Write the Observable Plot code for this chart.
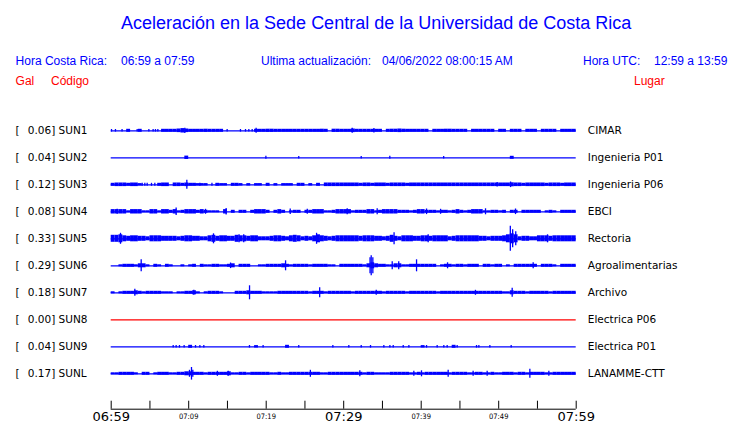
<!DOCTYPE html>
<html><head><meta charset="utf-8">
<script src="https://cdn.jsdelivr.net/npm/d3@7"></script>
<script src="https://cdn.jsdelivr.net/npm/@observablehq/plot@0.6"></script>
<style>
body{margin:0;background:#fff;}
#wrap{position:relative;width:740px;height:423px;overflow:hidden;font-family:"Liberation Sans",Arial,sans-serif;}
.h{position:absolute;white-space:pre;line-height:1;}
.b{color:#0000ff;font-size:12px;line-height:12px;}
.r{color:#ff0000;font-size:12px;line-height:12px;}
#chart{position:absolute;left:0;top:0;}
</style></head><body>
<div id="wrap">
  <div id="chart"></div>
  <div class="h" style="left:121px;top:14px;font-size:18px;line-height:18px;color:#0000ff;">Aceleración en la Sede Central de la Universidad de Costa Rica</div>
  <div class="h b" style="left:15.6px;top:55px;">Hora Costa Rica:</div>
  <div class="h b" style="left:121px;top:55px;">06:59 a 07:59</div>
  <div class="h b" style="left:261px;top:55px;">Ultima actualización:</div>
  <div class="h b" style="left:382px;top:55px;">04/06/2022 08:00:15 AM</div>
  <div class="h b" style="left:583px;top:55px;">Hora UTC:</div>
  <div class="h b" style="left:654px;top:55px;">12:59 a 13:59</div>
  <div class="h r" style="left:15.6px;top:75px;">Gal</div>
  <div class="h r" style="left:51px;top:75px;">Código</div>
  <div class="h r" style="left:634px;top:75px;">Lugar</div>
</div>
<script>
// ---- Data ----
const codes  = ["SUN1","SUN2","SUN3","SUN4","SUN5","SUN6","SUN7","SUN8","SUN9","SUNL"];
const galMax = [0.06, 0.04, 0.12, 0.08, 0.33, 0.29, 0.18, 0.00, 0.04, 0.17];
const places = ["CIMAR","Ingenieria P01","Ingenieria P06","EBCI","Rectoria","Agroalimentarias","Archivo","Electrica P06","Electrica P01","LANAMME-CTT"];

// minutes after 06:59 of the ticks and their labels
const tickMinutes = [0,5,10,15,20,25,30,35,40,45,50,55,60];
const labelMinutes = [0,10,20,30,40,50,60];
const tickLabels = ["06:59","07:09","07:19","07:29","07:39","07:49","07:59"];
const majorLabels = ["06:59","07:29","07:59"];

// envelope (half amplitude) per half-minute bin, 120 bins each
const envSUN1 = [0,0,0,0,1.5,0,0,1.5,0,0, 0,0,0,1.5,1.5,1.5,1.5,1.8,2.2,1.8, 1.5,1.5,1.5,1.5,1.6,1.5,1.5,1.5,1.5,0, 0,0,0,0,0,0,0,1.5,1.5,1.5, 1.6,1.6,1.5,1.5,1.5,1.5,1.5,1.5,1.5,1.5, 1.5,1.5,1.5,1.5,1.6,1.5,0,1.6,1.6,1.5,
  1.5,1.5,1.8,1.5,1.5,1.5,1.5,1.5,1.5,1.5, 0,1.5,1.6,1.6,1.8,1.6,1.5,1.5,1.5,1.5, 1.5,1.5,0,1.5,1.5,1.5,1.6,1.6,1.5,1.5, 1.5,1.5,0,1.5,1.5,1.5,1.5,1.5,1.5,0, 1.5,1.5,0,1.5,1.5,1.5,0,1.5,1.5,1.5, 0,1.5,1.5,1.5,1.5,0,1.5,1.5,1.5,1.5];
const envSUN2 = [0,0,0,0,0,0,0,0,0,0, 0,0,0,0,0,0,0,0,0,1.7, 0,0,0,0,0,0,0,0,0,0, 0,0,0,0,0,0,0,0,0,0, 0,0,0,0,0,0,0,0,0,0, 0,0,0,0,0,0,0,0,0,0,
  0,0,0,0,0,0,0,0,0,0, 0,0,0,0,0,0,0,0,0,0, 0,0,0,0,0,0,0,0,0,0, 0,0,0,0,0,0,0,0,0,0, 0,0,0,1.5,0,0,0,0,0,0, 0,0,0,0,0,0,0,0,0,0];
const envSUN3 = [1.5,1.8,1.8,1.8,1.5,1.8,1.8,1.2,0,0, 0,0,1.5,1.8,1.8,0,1.8,1.8,1.5,1.8, 1.5,1.5,1.2,1.2,1.2,0,0,1.5,1.2,1.2, 0,1.5,1.5,1.2,0,1.2,0,1.2,1.2,0, 1.5,0,1.2,0,1.2,1.2,1.2,0,1.5,1.5, 0,1.2,0,1.5,0,1.8,1.8,1.8,1.8,1.8,
  1.8,1.8,1.8,1.8,1.5,1.8,1.8,1.5,1.8,1.8, 1.8,1.5,1.8,1.8,1.8,1.8,1.5,1.8,1.8,1.8, 1.8,1.8,1.8,1.8,1.8,1.8,1.8,1.8,1.8,1.8, 1.8,1.8,1.8,1.8,1.8,1.8,1.8,1.8,1.8,1.8, 1.8,1.8,1.8,2,1.8,1.8,1.5,1.8,1.8,1.8, 1.8,1.8,1.5,1.8,1.8,1.8,1.5,1.8,1.8,1.8];
const envSUN4 = [2.2,2.2,2.2,2.2,1,2.2,2.2,2.2,1,1, 2.2,2.2,1,2.2,2.2,1.5,2.2,1,1.5,2.2, 2.2,2.2,1.5,2.2,1.5,1,1,1,0,2.2, 0,1.5,0,1.5,1.5,0,1.5,2.2,2.2,2.2, 1.5,0,1.5,2.2,1.5,0,1,1.5,1.5,0, 1.5,1.5,2.2,2.2,2.2,1,1,1.5,2.2,2.2,
  2.2,2.2,1,1.5,1.5,1.5,2.2,2.2,1,1.5, 2.2,2.2,2.2,2.2,1.5,1.5,1.5,1,1.5,2.2, 2.2,1.5,1.5,1.5,1,1.5,1.5,1,1.5,2.2, 1.5,1,1.5,2.2,2.2,2.2,1,1,1.5,1.5, 1,1.5,0,1.5,1.5,0,1.5,1.5,1.5,1.5, 1.5,0,1,1.5,1,0,1.5,1.5,1.5,1.5];
const envSUN5 = [3.5,3.5,4,3,2.5,3,3,2.5,2.5,2, 3,3,3,2.5,2.5,2.5,2.5,2,2.5,3, 3,2.5,2.5,2,2,3,3.5,2.5,3,3, 2.5,2.5,3.5,3,3,2.5,3,3,2,2, 2,2.5,3,3,2.5,2,3,3.5,3,2, 2.5,2,3,4,3,2.5,2,2.5,3,3,
  3,3,3,3,2.5,3,3,3,2.5,2.5, 2,2.5,3.5,2.5,2,3,3,3,2.5,2.5, 3,3,2.5,3,3,3,3,2,2.5,3, 3,3,3,3,3,2.5,2.5,2,2.5,2.5, 2.5,3,4,5,4,2,2.5,2.5,2,2, 3,3,3,2.5,3,3,3,3,3,3];
const envSUN6 = [0,0,1,1.5,1.5,1.5,1,2,2,1, 0,1.5,1,0,1.5,1,0,0,1,0, 1,1.5,0,1.5,1,1,1.5,1.5,1,1, 1.5,2,0,1.5,1.5,1.5,0,0,1,1, 1.5,1.5,1.5,1.5,2,1.5,1,1.5,1.5,1.5, 1.5,1,1.5,1.5,1.5,1.5,1,1,0,1.5,
  1.5,1.5,1.5,1.5,1.5,1,2,3,2,1.5, 1.5,1,1,2,2,1,1,1.5,1.5,1.5, 1.5,1.5,1.5,1.5,0,1,1.5,1.5,1,1.5, 1.5,1,1.5,1.5,1.5,0,1.5,1.5,1,1.5, 1.5,0,1,0,1.5,1.5,1.5,1.5,1.5,1.5, 0,1.5,1.5,1.5,1,0,1.5,1.5,1.5,1.5];
const envSUN7 = [1,0,1,1.5,1.5,1.5,2,1.5,1,1.5, 1.5,1.5,1.5,1,1,1,0,1,1,1.5, 1.5,2,1,0,1,1.5,1.5,1.5,1,0, 0,0,1.5,1.5,1.5,2,1.5,1.5,1.5,1, 1,1,1,1.5,1.5,1.5,1.5,1.5,1.5,1.5, 1.5,1,1.5,1.5,1.5,1,1.5,1.5,1.5,1.5,
  1.5,1.5,1,1.5,1.5,1.5,1.5,1.5,1.5,1.5, 1,1.5,1.5,1.5,1.5,1.5,1,1.5,1.5,1.5, 1.5,1.5,1.5,1.5,1,1.5,1.5,1.5,1.5,1.5, 1.5,1.5,1.5,1.5,1.5,1.5,1.5,1.5,1.5,1.5, 1.5,1,1,2,1.5,1.5,1.5,1,1.5,1.5, 1.5,1.5,1.5,1,1.5,1.5,1.5,1.5,1.5,1.5];
const envSUN8 = [0,0,0,0,0,0,0,0,0,0, 0,0,0,0,0,0,0,0,0,0, 0,0,0,0,0,0,0,0,0,0, 0,0,0,0,0,0,0,0,0,0, 0,0,0,0,0,0,0,0,0,0, 0,0,0,0,0,0,0,0,0,0,
  0,0,0,0,0,0,0,0,0,0, 0,0,0,0,0,0,0,0,0,0, 0,0,0,0,0,0,0,0,0,0, 0,0,0,0,0,0,0,0,0,0, 0,0,0,0,0,0,0,0,0,0, 0,0,0,0,0,0,0,0,0,0];
const envSUN9 = [0,0,0,0,0,0,0,0,0,0, 0,0,0,0,0,0,0,0,0,0, 1.5,0,0,0,0,0,0,0,0,0, 0,0,0,0,0,0,0,1.2,0,0, 0,0,0,0,0,1.5,0,0,0,0, 0,0,0,0,0,0,0,0,0,0,
  0,0,0,0,0,0,0,0,0,0, 0,0,0,0,0,0,0,0,0,0, 1.2,0,0,0,0,0,0,0,1.5,0, 0,0,0,0,0,0,0,0,0,0, 0,0,0,0,0,0,0,0,0,0, 0,0,0,0,0,0,0,0,0,0];
const envSUNL = [1,1,1.5,1.5,1.5,1.5,1,0,1.5,1.5, 0,1,1.5,1.5,1.5,1,1,1.5,1.5,2, 2,1.5,1.5,1.5,1,1.5,1.5,1.5,1.5,1.5, 2,1,1,1.5,1.5,1,1.5,1.5,1.5,1.5, 1.5,1,1,1.5,1,1,1.5,1.5,1.5,1.5, 1.5,1.5,1.5,1.5,1,1,1.5,1.5,1.5,1.5,
  1.5,1.5,1.5,1.5,1.5,1,1.5,1.5,1,1, 1,1,1.5,1.5,1.5,1.5,1.5,1,1,1.5, 1,1.5,1.5,1.5,1.5,1.5,1.5,1,1.5,1.5, 1.5,1.5,1,1,1.5,1.5,1,1,1.5,1, 1,1.5,1.5,1.5,1,1.5,1.5,1,1.5,1.5, 1.5,1.5,1,1,1.5,1.5,1.5,1.5,1.5,1.5];

// isolated peaks: [minute after 06:59, half amplitude]
const pkSUN1 = [[0.04,1.3],[0.55,1.3],[1.4,1.3],[3.35,1.3],[4.86,1.3],[5.41,1.3],[5.71,1.3],[6.02,1.3],[9.5,2.6],[14.96,1.3],[16.68,1.3],[17.33,1.3],[17.76,1.3],[18.19,1.3],[18.7,2.5],[31.1,2.5],[33.9,2.2]];
const pkSUN2 = [[19.96,1.5],[24.2,1.3],[32.26,1.3],[35.95,1.5],[42.9,1.3]];
const pkSUN3 = [[4.0,1.5],[4.34,1.5],[4.64,1.5],[5.2,1.5],[5.63,1.5],[9.76,4.5],[11.44,1.5],[13.0,1.5],[49.8,2.2],[51.53,2.8]];
const pkSUN4 = [[0.77,2.5],[8.38,3.7],[12.17,2.5],[14.83,3.3],[23.1,2.8],[25.3,2.5],[30.45,3],[34.32,3],[40.69,2.8],[42.5,2.5],[48.3,3],[52.17,2.8]];
const pkSUN5 = [[1.2,5.5],[13.2,5],[16.5,4],[17.1,4],[26.5,5.5],[36.5,6],[40.9,4],[51.5,12.5],[51.8,9],[52.2,7],[56.3,4]];
const pkSUN6 = [[3.87,6],[15.4,2.8],[22.5,5],[33.4,8],[33.55,10],[33.76,8],[36.26,4],[37.1,4],[39.4,6],[43.4,3],[54.45,3]];
const pkSUN7 = [[3.05,3.5],[10.66,2.5],[17.85,7],[26.9,5],[34.2,2.5],[47.0,2.5],[51.74,4.5]];
const pkSUN8 = [];
const pkSUN9 = [[8.0,1.3],[8.38,1.3],[8.81,1.3],[9.41,1.3],[10.88,1.3],[11.44,1.3],[11.95,1.3],[17.84,1.3],[19.6,1.3],[24.2,1.3],[28.6,1.3],[30.66,1.3],[32.26,1.3],[33.46,1.3],[35.18,1.3],[35.96,1.3],[36.39,1.3],[37.68,1.3],[38.41,1.3],[40.69,1.3],[42.06,1.3],[42.92,1.3],[43.35,1.3],[44.64,1.3],[47.14,1.3],[47.44,1.3],[48.86,1.3],[51.61,1.3]];
const pkSUNL = [[10.1,3.5],[10.36,6.3],[10.53,3.5],[13.7,2.5],[15.1,2.5],[25.7,3.5],[32.08,3],[39.05,2.5],[40.04,3],[43.48,3.5],[46.7,2.5],[48.51,2.5],[54.02,4.5],[56.47,2.5]];

const envelopes = [envSUN1,envSUN2,envSUN3,envSUN4,envSUN5,envSUN6,envSUN7,envSUN8,envSUN9,envSUNL];
const peaks = [pkSUN1,pkSUN2,pkSUN3,pkSUN4,pkSUN5,pkSUN6,pkSUN7,pkSUN8,pkSUN9,pkSUNL];

// ---- Build ----
const BIN = 0.5;         // minutes per envelope bin
const GAIN = 1 / 27;     // amplitude -> row units
const BLUE = "#0000ff", RED = "#ff0000";

const stations = codes.map((code, i) => ({code, row: i, gal: galMax[i], place: places[i]}));
const bins = stations.flatMap(s => envelopes[s.row].map((a, b) => ({row: s.row, t0: b * BIN, t1: (b + 1) * BIN, a})).filter(d => d.a > 0));
const spikes = stations.flatMap(s => peaks[s.row].map(([t, a]) => ({row: s.row, t, a})));

const FONT = "DejaVu Sans";
const AX_TOP = 10.015, AX_LINE = 10.311;
const majors = tickLabels.map((l, i) => ({l, m: labelMinutes[i]})).filter(d => majorLabels.includes(d.l));
const minors = tickLabels.map((l, i) => ({l, m: labelMinutes[i]})).filter(d => !majorLabels.includes(d.l));

const chart = Plot.plot({
  width: 740,
  height: 423,
  marginLeft: 0, marginRight: 0, marginTop: 0, marginBottom: 0,
  style: {background: "transparent", overflow: "visible"},
  x: {type: "linear", domain: [0, 60], range: [110.7, 575.7], axis: null},
  y: {type: "linear", domain: [0, 9], range: [130.3, 373.3], axis: null},
  color: {type: "identity"},
  marks: [
    Plot.ruleY(stations, {y: "row", x1: 0, x2: 60, stroke: d => d.gal === 0 ? RED : BLUE, strokeWidth: 1.3}),
    Plot.rect(bins, {x1: "t0", x2: "t1", y1: d => d.row - d.a * GAIN, y2: d => d.row + d.a * GAIN, fill: BLUE}),
    Plot.ruleX(spikes, {x: "t", y1: d => d.row - d.a * GAIN, y2: d => d.row + d.a * GAIN, stroke: BLUE, strokeWidth: 1.3}),
    Plot.text(stations, {x: 0, y: "row", text: () => "[", dx: -95.7, textAnchor: "start", fontSize: 10.5, fontFamily: FONT, fill: "#000"}),
    Plot.text(stations, {x: 0, y: "row", text: d => `${d.gal.toFixed(2)}] ${d.code}`, dx: -83.4, textAnchor: "start", fontSize: 10.5, fontFamily: FONT, fill: "#000"}),
    Plot.text(stations, {x: 60, y: "row", text: "place", dx: 11.6, textAnchor: "start", fontSize: 10.5, fontFamily: FONT, fill: "#000"}),
    Plot.ruleY([AX_LINE], {x1: 0, x2: 60, stroke: "#000", strokeWidth: 1}),
    Plot.ruleX(tickMinutes, {x: d => d, y1: AX_TOP, y2: AX_LINE, stroke: "#000", strokeWidth: 1}),
    Plot.text(majors, {x: "m", y: 10.756, text: "l", lineAnchor: "bottom", fontSize: 13, fontFamily: FONT, fill: "#000"}),
    Plot.text(minors, {x: "m", y: 10.656, text: "l", lineAnchor: "bottom", fontSize: 7.5, fontFamily: "Liberation Sans Narrow, DejaVu Sans Condensed, sans-serif", fill: "#000"})
  ]
});
document.getElementById("chart").appendChild(chart);
</script>
</body></html>
